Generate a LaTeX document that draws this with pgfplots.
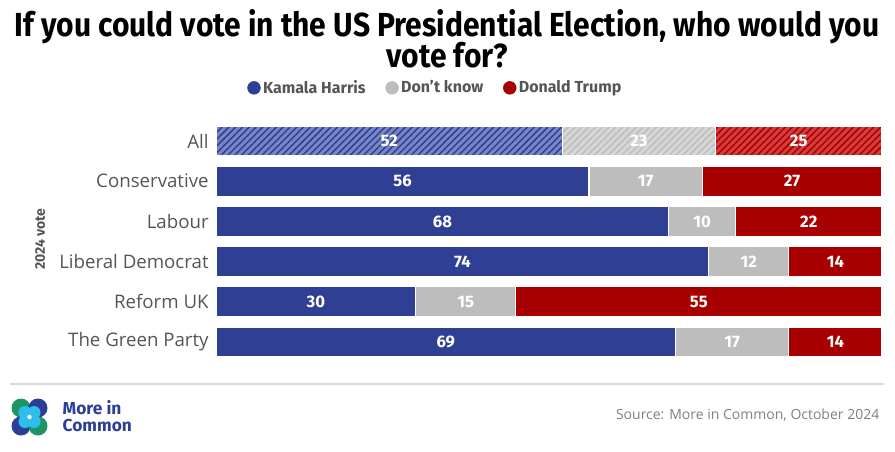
\documentclass[border=0pt]{standalone}
\usepackage{pgfplots}
\pgfplotsset{compat=1.18}
\usepackage{pgfplotstable}
\usepackage{fontspec}
\setmainfont{Fira Sans}
\newfontfamily\titlefont[FakeStretch=0.9]{Fira Sans}
\newfontfamily\labfont{Open Sans}
\usetikzlibrary{patterns.meta}
\definecolor{harris}{RGB}{46,63,148}
\definecolor{dk}{RGB}{189,189,189}
\definecolor{trump}{RGB}{168,0,0}
\definecolor{harrisL}{RGB}{120,134,196}
\definecolor{dkL}{RGB}{214,214,214}
\definecolor{trumpL}{RGB}{214,60,60}
\definecolor{labgray}{RGB}{85,85,85}
\definecolor{mic}{RGB}{43,63,152}
\definecolor{micgreen}{RGB}{30,150,100}
\definecolor{miccyan}{RGB}{45,190,235}

\pgfplotstableread{
row h d t
0 52 23 25
1 56 17 27
2 68 10 22
3 74 12 14
4 30 15 55
5 69 17 14
}\data

\pgfplotsset{
  base/.style={
    at={(162pt,66.675pt)}, anchor=south west,
    scale only axis, width=499.5pt, height=180.9pt,
    xmin=0, xmax=100, ymin=-0.5, ymax=5.5, y dir=reverse,
    axis line style={draw=none}, xtick=\empty,
    major tick length=0pt,
    clip=false,
    /pgf/number format/assume math mode=true,
  },
  vlab/.style={only marks, mark size=0pt, nodes near coords, point meta=explicit,
    every node near coord/.append style={anchor=center, text=white, font=\bfseries\fontsize{12.5}{14}\selectfont}},
}

\begin{document}
\begin{tikzpicture}
\path[use as bounding box] (0,0) rectangle (671.25pt,338.25pt);

% main bars
\begin{axis}[base,
  xbar stacked, bar width=22.5pt,
  ytick={0,...,5},
  yticklabels={All,Conservative,Labour,Liberal Democrat,Reform UK,The Green Party},
  yticklabel style={font=\labfont\fontsize{14}{16}\selectfont, text=labgray, xshift=-2pt},
  ylabel={2024 vote},
  ylabel style={font=\bfseries\fontsize{10.5}{12}\selectfont, text=labgray, at={(axis description cs:-0.264,0.51)}, anchor=center},
]
\addplot[fill=harris, draw=white, line width=0.8pt] table[x=h, y=row, skip coords between index={0}{1}] {\data};
\addplot[fill=dk, draw=white, line width=0.8pt] table[x=d, y=row, skip coords between index={0}{1}] {\data};
\addplot[fill=trump, draw=white, line width=0.8pt] table[x=t, y=row, skip coords between index={0}{1}] {\data};
\end{axis}

% hatched "All" row
\begin{axis}[base, xbar stacked, bar width=22.5pt, ytick=\empty]
\addplot[fill=harrisL, draw=white, line width=0.8pt,
  postaction={pattern={Lines[angle=45,distance=3.6pt,line width=1.1pt]}, pattern color=harris}]
  table[x=h, y=row, skip coords between index={1}{6}] {\data};
\addplot[fill=dkL, draw=white, line width=0.8pt,
  postaction={pattern={Lines[angle=45,distance=3.6pt,line width=1.1pt]}, pattern color=dk}]
  table[x=d, y=row, skip coords between index={1}{6}] {\data};
\addplot[fill=trumpL, draw=white, line width=0.8pt,
  postaction={pattern={Lines[angle=45,distance=3.6pt,line width=1.1pt]}, pattern color=trump}]
  table[x=t, y=row, skip coords between index={1}{6}] {\data};
\end{axis}

% value labels + legend
\begin{axis}[base, ytick=\empty,
  legend columns=3,
  legend style={draw=none, fill=none, at={(axis description cs:0.330,1.137)}, anchor=center,
    font=\bfseries\fontsize{12}{14}\selectfont, text=labgray,
    /tikz/every even column/.append style={column sep=13pt}},
  legend cell align=left,
]
\addlegendimage{only marks, mark=*, mark size=4.8pt, color=harris}
\addlegendentry{Kamala Harris}
\addlegendimage{only marks, mark=*, mark size=4.8pt, color=dk}
\addlegendentry{Don't know}
\addlegendimage{only marks, mark=*, mark size=4.8pt, color=trump}
\addlegendentry{Donald Trump}
\addplot[vlab, forget plot] table[x expr=\thisrow{h}/2, y=row, meta=h] {\data};
\addplot[vlab, forget plot] table[x expr=\thisrow{h}+\thisrow{d}/2, y=row, meta=d] {\data};
\addplot[vlab, forget plot] table[x expr=\thisrow{h}+\thisrow{d}+\thisrow{t}/2, y=row, meta=t] {\data};
\end{axis}

\begin{scope}[x=0.75pt,y=0.75pt]
% title
\node[align=center, font=\titlefont\bfseries\fontsize{25}{19}\selectfont] at (447,412) {If you could vote in the US Presidential Election, who would you\\[-2.5pt]vote for?};

% separator
\draw[gray!30, line width=0.8pt] (10,67) -- (884,67);

% logo
\fill[micgreen] (21,43) circle (9.5);
\fill[mic] (38,43) circle (9.5);
\fill[mic] (21,25) circle (9.5);
\fill[micgreen] (38,25) circle (9.5);
\fill[miccyan] (29.5,34) circle (9);
\fill[miccyan] (25,38.5) circle (6.5);
\fill[miccyan] (34,38.5) circle (6.5);
\fill[miccyan] (25,29.5) circle (6.5);
\fill[miccyan] (34,29.5) circle (6.5);
\fill[white] (29.5,34) circle (2.2);
\node[anchor=west, align=left, text=mic, font=\bfseries\fontsize{13}{13}\selectfont] at (58,35) {More in\\Common};

% source
\node[anchor=east, text=gray, font=\labfont\fontsize{10.5}{12}\selectfont] at (884,36) {Source: More in Common, October 2024};
\end{scope}
\end{tikzpicture}
\end{document}
